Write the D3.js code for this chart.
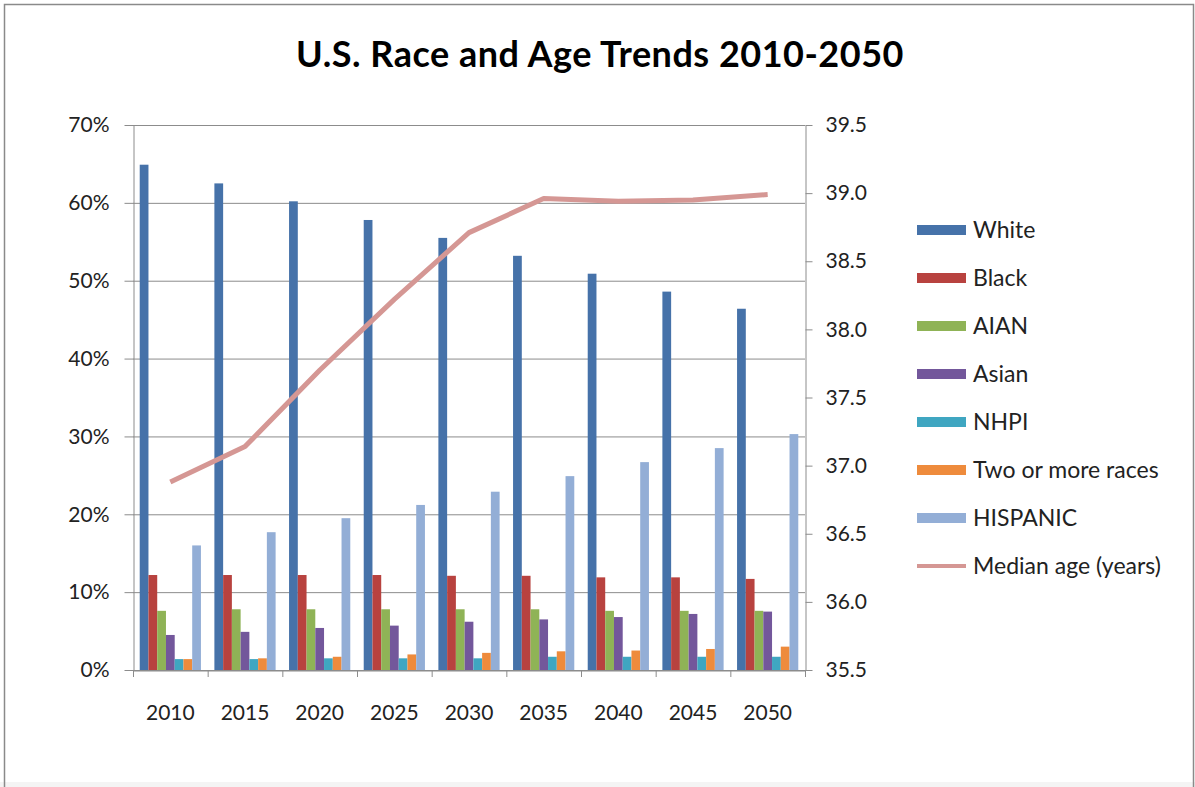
<!DOCTYPE html>
<html>
<head>
<meta charset="utf-8">
<script src="https://cdn.jsdelivr.net/npm/d3@7"></script>
<style>
  html, body { margin: 0; padding: 0; background: #fff; }
  svg { display: block; font-family: Lato, "Open Sans", sans-serif; }
</style>
</head>
<body>
<svg id="chart" width="1195" height="787"></svg>
<script>
// ---- data ----
const years = ["2010", "2015", "2020", "2025", "2030", "2035", "2040", "2045", "2050"];
const seriesNames = ["White", "Black", "AIAN", "Asian", "NHPI", "Two or more races", "HISPANIC"];
const white    = [64.9, 62.5, 60.2, 57.8, 55.5, 53.2, 50.9, 48.6, 46.4];
const black    = [12.2, 12.2, 12.2, 12.2, 12.1, 12.1, 11.9, 11.9, 11.7];
const aian     = [7.6, 7.8, 7.8, 7.8, 7.8, 7.8, 7.6, 7.6, 7.6];
const asian    = [4.5, 4.9, 5.4, 5.7, 6.2, 6.5, 6.8, 7.2, 7.5];
const nhpi     = [1.4, 1.4, 1.5, 1.5, 1.5, 1.7, 1.7, 1.7, 1.7];
const twoMore  = [1.4, 1.5, 1.7, 2.0, 2.2, 2.4, 2.5, 2.7, 3.0];
const hispanic = [16.0, 17.7, 19.5, 21.2, 22.9, 24.9, 26.7, 28.5, 30.3];
const medianAge = [36.88, 37.14, 37.70, 38.22, 38.71, 38.96, 38.94, 38.95, 38.99];
const leftTicks = [0, 10, 20, 30, 40, 50, 60, 70];
const rightTicks = [35.5, 36.0, 36.5, 37.0, 37.5, 38.0, 38.5, 39.0, 39.5];
const lineName = "Median age (years)";
const titleText = "U.S. Race and Age Trends 2010-2050";

const seriesValues = [white, black, aian, asian, nhpi, twoMore, hispanic];
const colors = ["#4672A9", "#B8423F", "#8FB356", "#73579B", "#3FA6C1", "#EE8B3C", "#93AED6"];
const lineColor = "#D59794";

// ---- layout ----
const svg = d3.select("#chart");
const L = 133, R = 805, T = 125, B = 670;

// outer frame
svg.append("rect").attr("x", 0).attr("y", 782).attr("width", 1195).attr("height", 5).attr("fill", "#f4f4f4");
svg.append("path").attr("d", "M4.5,787 V4.5 H1193.5 V787").attr("fill", "none").attr("stroke", "#8a8a8a").attr("stroke-width", 1.5);

// title
svg.append("text").attr("x", 600).attr("y", 67).attr("text-anchor", "middle")
  .attr("font-size", 36).attr("font-weight", "bold").attr("letter-spacing", 0.5).attr("fill", "#000").text(titleText);

// scales
const x = d3.scaleBand().domain(years).range([L, R]).padding(0);
const xInner = d3.scaleBand().domain(seriesNames).range([x.bandwidth() * 0.09, x.bandwidth() * 0.91]).padding(0);
const yL = d3.scaleLinear().domain([0, 70]).range([B, T]);
const yR = d3.scaleLinear().domain([35.5, 39.5]).range([B, T]);

// gridlines
svg.append("g").selectAll("line").data(leftTicks).join("line")
  .attr("x1", L).attr("x2", R).attr("y1", d => yL(d) + 0.5).attr("y2", d => yL(d) + 0.5)
  .attr("stroke", "#8c8c8c").attr("stroke-width", 1);

// bars
const barG = svg.append("g");
seriesNames.forEach((name, si) => {
  barG.append("g").selectAll("rect").data(seriesValues[si]).join("rect")
    .attr("x", (d, i) => x(years[i]) + xInner(name))
    .attr("width", xInner.bandwidth())
    .attr("y", d => yL(d))
    .attr("height", d => yL(0) - yL(d))
    .attr("fill", colors[si]);
});

// median line
const line = d3.line().x((d, i) => x(years[i]) + x.bandwidth() / 2).y(d => yR(d));
svg.append("path").datum(medianAge).attr("d", line)
  .attr("fill", "none").attr("stroke", lineColor).attr("stroke-width", 5).attr("stroke-linejoin", "round");

// axes
const axisStyle = g => {
  g.selectAll(".domain").attr("stroke", "#8c8c8c");
  g.selectAll(".tick line").attr("stroke", "#8c8c8c");
  g.selectAll("text").attr("font-family", "Lato, 'Open Sans', sans-serif").attr("font-size", 21).attr("fill", "#222");
};
svg.append("g").attr("transform", `translate(${L + 0.5},0)`)
  .call(d3.axisLeft(yL).tickValues(leftTicks).tickFormat(d => d + "%").tickSize(9).tickSizeOuter(0).tickPadding(15))
  .call(axisStyle);
svg.append("g").attr("transform", `translate(${R + 0.5},0)`)
  .call(d3.axisRight(yR).tickValues(rightTicks).tickFormat(d3.format(".1f")).tickSize(7).tickSizeOuter(0).tickPadding(13))
  .call(axisStyle);
svg.append("g").attr("transform", `translate(0,${B + 0.5})`)
  .call(d3.axisBottom(x).tickSize(0).tickPadding(35).tickSizeOuter(0))
  .call(axisStyle);
// category boundary ticks
const bounds = years.map(y => x(y)).concat([R]);
svg.append("g").selectAll("line").data(bounds).join("line")
  .attr("x1", d => d + 0.5).attr("x2", d => d + 0.5).attr("y1", B).attr("y2", B + 7)
  .attr("stroke", "#8c8c8c");

// legend
const legend = svg.append("g").attr("transform", "translate(917,230)");
const legItems = seriesNames.map((n, i) => ({ name: n, color: colors[i], type: "bar" }))
  .concat([{ name: lineName, color: lineColor, type: "line" }]);
const li = legend.selectAll("g").data(legItems).join("g").attr("transform", (d, i) => `translate(0,${i * 48})`);
li.filter(d => d.type === "bar").append("rect").attr("x", 0).attr("y", -5).attr("width", 49).attr("height", 10).attr("fill", d => d.color);
li.filter(d => d.type === "line").append("line").attr("x1", 0).attr("x2", 49).attr("y1", 0).attr("y2", 0)
  .attr("stroke", d => d.color).attr("stroke-width", 4);
li.append("text").attr("x", 56).attr("y", 0).attr("dy", "0.36em").attr("font-size", 23).attr("fill", "#222").text(d => d.name);
</script>
</body>
</html>
